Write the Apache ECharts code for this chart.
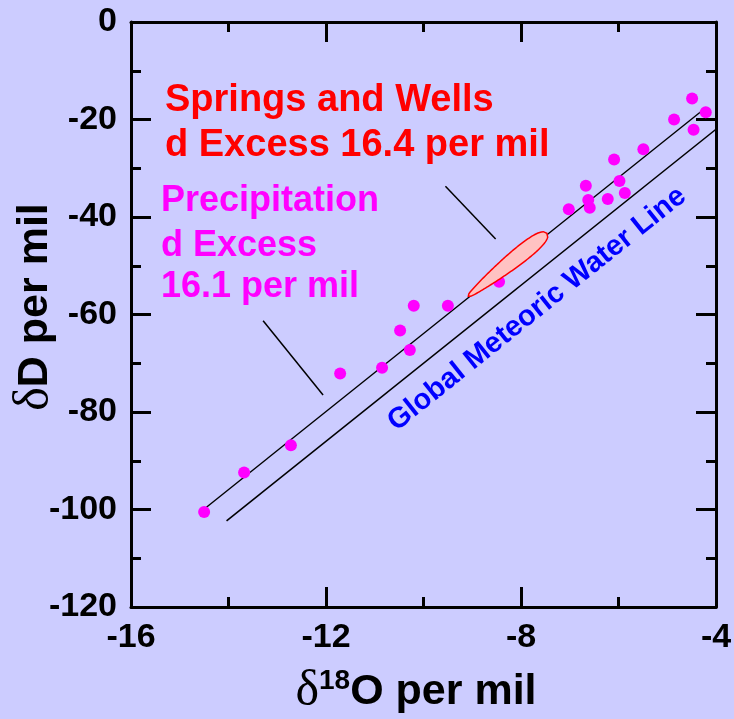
<!DOCTYPE html>
<html>
<head>
<meta charset="utf-8">
<script src="https://cdn.jsdelivr.net/npm/echarts@6/dist/echarts.min.js"></script>
<style>
  html, body { margin: 0; padding: 0; background: #ccccff; }
  #chart { width: 734px; height: 719px; }
</style>
</head>
<body>
<div id="chart"></div>
<script>
// Precipitation samples: δ18O and δD (per mil)
const precipO18 = [-14.50, -13.68, -12.72, -11.71, -10.85, -10.28, -10.48, -10.20, -9.50, -8.45,
                   -7.02, -6.67, -6.62, -6.59, -6.22, -6.09, -5.98, -5.87, -5.49, -4.86,
                   -4.49, -4.46, -4.21];
const precipD   = [-100.5, -92.4, -86.8, -72.1, -70.9, -67.3, -63.3, -58.2, -58.2, -53.3,
                   -38.4, -33.6, -36.5, -38.1, -36.3, -28.2, -32.6, -35.1, -26.1, -20.0,
                   -15.7, -22.1, -18.5];

// Meteoric water lines: δD = 8·δ18O + d
const gmwlSlope = 8;
const gmwlExcess = 10;            // Global Meteoric Water Line
const gmwlO18Range = [-14.04, -4.0];
const precipExcess = 16.1;        // local precipitation line
const precipO18Range = [-14.53, -4.23];
const springsExcess = 16.4;       // springs and wells envelope
const springsO18Range = [-9.08, -7.47];

// Leader lines from the text labels (δ18O, δD)
const leaderSprings = [[-9.55, -33.7], [-8.52, -44.5]];
const leaderPrecip  = [[-13.29, -61.3], [-12.06, -76.5]];

// Axis ticks
const xTicks = [-16, -12, -8, -4];
const yTicks = [-120, -100, -80, -60, -40, -20, 0];

const mwl = (d, range) => range.map(x => [x, gmwlSlope * x + d]);
const scatterData = precipO18.map((x, i) => [x, precipD[i]]);

const chart = echarts.init(document.getElementById('chart'), null, { renderer: 'canvas' });

const FONT = '"Liberation Sans", Arial, Helvetica, sans-serif';
const SERIF = '"Liberation Serif", "Times New Roman", serif';

function axisCommon(extra) {
  return Object.assign({
    type: 'value',
    axisLine: { show: true, onZero: false, lineStyle: { color: '#000', width: 3 } },
    axisTick: { show: true, inside: true, length: 20, lineStyle: { color: '#000', width: 3 } },
    minorTick: { show: true, splitNumber: 2, length: 10, lineStyle: { color: '#000', width: 3 } },
    splitLine: { show: false },
    minorSplitLine: { show: false }
  }, extra);
}

const xMin = xTicks[0], xMax = xTicks[xTicks.length - 1];
const yMin = yTicks[0], yMax = yTicks[yTicks.length - 1];
const xStep = xTicks[1] - xTicks[0];
const yStep = yTicks[1] - yTicks[0];

const tickFont = { color: '#000', fontSize: 34, fontWeight: 'bold', fontFamily: FONT };

const option = {
  backgroundColor: '#ccccff',
  animation: false,
  grid: { left: 131, right: 18, top: 22, bottom: 112, containLabel: false, outerBoundsMode: 'none' },
  xAxis: [
    axisCommon({
      min: xMin, max: xMax, interval: xStep, position: 'bottom',
      axisLabel: Object.assign({ show: true, margin: 14 }, tickFont)
    }),
    axisCommon({
      min: xMin, max: xMax, interval: xStep, position: 'top',
      axisLabel: { show: false }
    })
  ],
  yAxis: [
    axisCommon({
      min: yMin, max: yMax, interval: yStep, position: 'left',
      axisLabel: Object.assign({ show: true, margin: 14 }, tickFont)
    }),
    axisCommon({
      min: yMin, max: yMax, interval: yStep, position: 'right',
      axisLabel: { show: false }
    })
  ],
  series: [
    {
      name: 'Global Meteoric Water Line', type: 'line', data: mwl(gmwlExcess, gmwlO18Range),
      symbol: 'none', lineStyle: { color: '#000', width: 1.6 }, silent: true, z: 2
    },
    {
      name: 'Precipitation line', type: 'line', data: mwl(precipExcess, precipO18Range),
      symbol: 'none', lineStyle: { color: '#000', width: 1.4 }, silent: true, z: 2
    },
    {
      name: 'Springs leader', type: 'line', data: leaderSprings,
      symbol: 'none', lineStyle: { color: '#000', width: 1.5 }, silent: true, z: 2
    },
    {
      name: 'Precipitation leader', type: 'line', data: leaderPrecip,
      symbol: 'none', lineStyle: { color: '#000', width: 1.5 }, silent: true, z: 2
    },
    {
      name: 'Precipitation', type: 'scatter', data: scatterData,
      symbol: 'circle', symbolSize: 12,
      itemStyle: { color: '#ff00ff', opacity: 1 }, z: 3
    },
    {
      // Springs and wells envelope: an elongated ellipse along δD = 8·δ18O + 16.4
      name: 'Springs and Wells', type: 'custom', z: 4, silent: true,
      data: [springsO18Range],
      renderItem: function (params, api) {
        const x0 = springsO18Range[0], x1 = springsO18Range[1];
        const p0 = api.coord([x0, gmwlSlope * x0 + springsExcess]);
        const p1 = api.coord([x1, gmwlSlope * x1 + springsExcess]);
        const dx = p1[0] - p0[0], dy = p1[1] - p0[1];
        const len = Math.sqrt(dx * dx + dy * dy);
        const ux = dx / len, uy = dy / len;
        const nx = -uy, ny = ux;
        const halfW = 10.5;
        const N = 60;
        const upper = [], lower = [];
        for (let i = 0; i <= N; i++) {
          const t = i / N;
          const s = Math.pow(Math.max(0, 1 - Math.pow(2 * t - 1, 2)), 0.4);
          const h = halfW * s * (0.4 + 0.6 * t);
          const cx = p0[0] + dx * t, cy = p0[1] + dy * t;
          upper.push([cx + nx * h, cy + ny * h]);
          lower.push([cx - nx * h, cy - ny * h]);
        }
        const pts = upper.concat(lower.reverse());
        return {
          type: 'polygon',
          shape: { points: pts },
          style: { fill: '#ffc2c2', stroke: '#ff0000', lineWidth: 1.5 }
        };
      }
    }
  ],
  graphic: [
    {
      type: 'text', x: 165, y: 100.5, z: 10,
      style: { text: 'Springs and Wells', fill: '#ff0000', font: 'bold 38px ' + FONT, align: 'left', verticalAlign: 'middle' }
    },
    {
      type: 'text', x: 165, y: 145.5, z: 10,
      style: { text: 'd Excess 16.4 per mil', fill: '#ff0000', font: 'bold 38px ' + FONT, align: 'left', verticalAlign: 'middle' }
    },
    {
      type: 'text', x: 161, y: 201.5, z: 10,
      style: { text: 'Precipitation', fill: '#ff00ff', font: 'bold 36px ' + FONT, align: 'left', verticalAlign: 'middle' }
    },
    {
      type: 'text', x: 161, y: 246.5, z: 10,
      style: { text: 'd Excess', fill: '#ff00ff', font: 'bold 36px ' + FONT, align: 'left', verticalAlign: 'middle' }
    },
    {
      type: 'text', x: 161, y: 287.5, z: 10,
      style: { text: '16.1 per mil', fill: '#ff00ff', font: 'bold 36px ' + FONT, align: 'left', verticalAlign: 'middle' }
    },
    {
      type: 'text', x: 537, y: 309, rotation: Math.atan(0.8), z: 10,
      style: { text: 'Global Meteoric Water Line', fill: '#0000ff', font: 'bold 29px ' + FONT, align: 'center', verticalAlign: 'middle' }
    },
    {
      // x-axis title: δ18O per mil
      type: 'text', x: 416, y: 692, z: 10,
      style: {
        text: '{g|δ}{s|18}{t|O per mil}', align: 'center', verticalAlign: 'middle',
        rich: {
          g: { fill: '#000', fontFamily: SERIF, fontSize: 50 },
          s: { fill: '#000', fontFamily: FONT, fontWeight: 'bold', fontSize: 28, verticalAlign: 'top' },
          t: { fill: '#000', fontFamily: FONT, fontWeight: 'bold', fontSize: 43 }
        }
      }
    },
    {
      // y-axis title: δD per mil
      type: 'text', x: 35, y: 307, rotation: Math.PI / 2, z: 10,
      style: {
        text: '{g|δ}{t|D per mil}', align: 'center', verticalAlign: 'middle',
        rich: {
          g: { fill: '#000', fontFamily: SERIF, fontSize: 50 },
          t: { fill: '#000', fontFamily: FONT, fontWeight: 'bold', fontSize: 43 }
        }
      }
    }
  ]
};

chart.setOption(option);
</script>
</body>
</html>
